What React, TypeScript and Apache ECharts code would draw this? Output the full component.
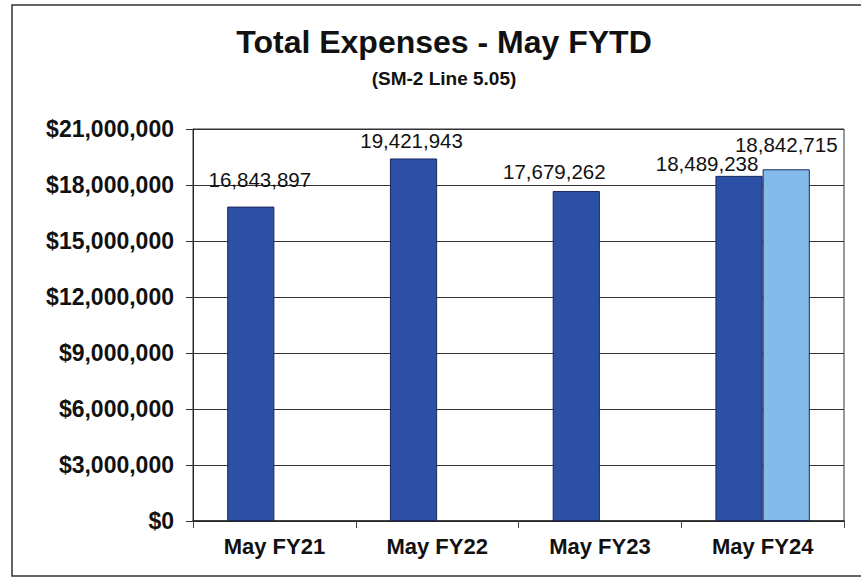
import React, { useEffect, useRef } from "react";
import * as echarts from "echarts";

const CATEGORIES = ["May FY21", "May FY22", "May FY23", "May FY24"];
const SERIES_MAIN = [16843897, 19421943, 17679262, 18489238];
const SERIES_SECOND = [null, null, null, 18842715];
const Y_MIN = 0;
const Y_MAX = 21000000;
const Y_STEP = 3000000;
const TITLE = "Total Expenses - May FYTD";
const SUBTITLE = "(SM-2 Line 5.05)";

// label nudges (px) to mimic the reference's placement
const MAIN_LABEL_OFFSETS = [[9, -12], [-2, -2], [-22, -4], [-32, 3]];
const SECOND_LABEL_OFFSETS = [[0, 0], [0, 0], [0, 0], [0, -9]];

const fmtMoney = (v: number) => "$" + v.toLocaleString("en-US");
const fmtNum = (v: number) => v.toLocaleString("en-US");

export default function App() {
  const ref = useRef<HTMLDivElement>(null);
  useEffect(() => {
    if (!ref.current) return;
    const chart = echarts.init(ref.current, undefined, { renderer: "svg" });
    const font = "Arial, 'Liberation Sans', sans-serif";
    chart.setOption({
      animation: false,
      backgroundColor: "#ffffff",
      textStyle: { fontFamily: font },
      title: [
        {
          text: TITLE,
          left: 439,
          top: 21,
          textAlign: "center",
          textStyle: { fontSize: 32, fontWeight: "bold", color: "#111", fontFamily: font },
        },
        {
          text: SUBTITLE,
          left: 439,
          top: 64,
          textAlign: "center",
          textStyle: { fontSize: 19, fontWeight: "bold", color: "#111", fontFamily: font },
        },
      ],
      graphic: [
        {
          type: "rect",
          shape: { x: 12, y: 5, width: 900, height: 571 },
          style: { fill: "none", stroke: "#333", lineWidth: 1.5 },
          silent: true,
        },
      ],
      grid: {
        left: 193,
        right: 17,
        top: 129,
        bottom: 63,
        show: true,
        borderColor: "#333",
        borderWidth: 1,
      },
      xAxis: {
        type: "category",
        data: CATEGORIES,
        axisLine: { show: true, lineStyle: { color: "#222", width: 1.5 } },
        axisTick: { show: true, length: 7, alignWithLabel: false, lineStyle: { color: "#444" } },
        axisLabel: { margin: 14, fontSize: 22, fontWeight: "bold", color: "#111", fontFamily: font },
      },
      yAxis: {
        type: "value",
        min: Y_MIN,
        max: Y_MAX,
        interval: Y_STEP,
        axisLine: { show: true, lineStyle: { color: "#222", width: 1 } },
        axisTick: { show: true, length: 7, lineStyle: { color: "#333" } },
        splitLine: { show: true, lineStyle: { color: "#333", width: 1 } },
        axisLabel: {
          margin: 19,
          fontSize: 23,
          fontWeight: "bold",
          color: "#111",
          fontFamily: font,
          formatter: (v: number) => fmtMoney(v),
        },
      },
      series: [
        {
          type: "bar",
          barGap: "0%",
          barCategoryGap: "42%",
          data: SERIES_MAIN.map((v, i) => ({
            value: v,
            label: { offset: MAIN_LABEL_OFFSETS[i] },
          })),
          itemStyle: { color: "#2c50a6", borderColor: "#1b2a5e", borderWidth: 1 },
          label: {
            show: true,
            position: "top",
            distance: 5,
            fontSize: 20.5,
            color: "#111",
            fontFamily: font,
            formatter: (p: any) => fmtNum(p.value),
          },
        },
        {
          type: "bar",
          data: SERIES_SECOND.map((v, i) => ({
            value: v,
            label: { offset: SECOND_LABEL_OFFSETS[i] },
          })),
          itemStyle: { color: "#85bbea", borderColor: "#1b2a5e", borderWidth: 1 },
          label: {
            show: true,
            position: "top",
            distance: 5,
            fontSize: 20.5,
            color: "#111",
            fontFamily: font,
            formatter: (p: any) => (p.value == null ? "" : fmtNum(p.value)),
          },
        },
      ],
    });
    return () => chart.dispose();
  }, []);
  return (
    <div
      ref={ref}
      style={{ position: "fixed", left: 0, top: 0, width: 861, height: 584 }}
    />
  );
}
